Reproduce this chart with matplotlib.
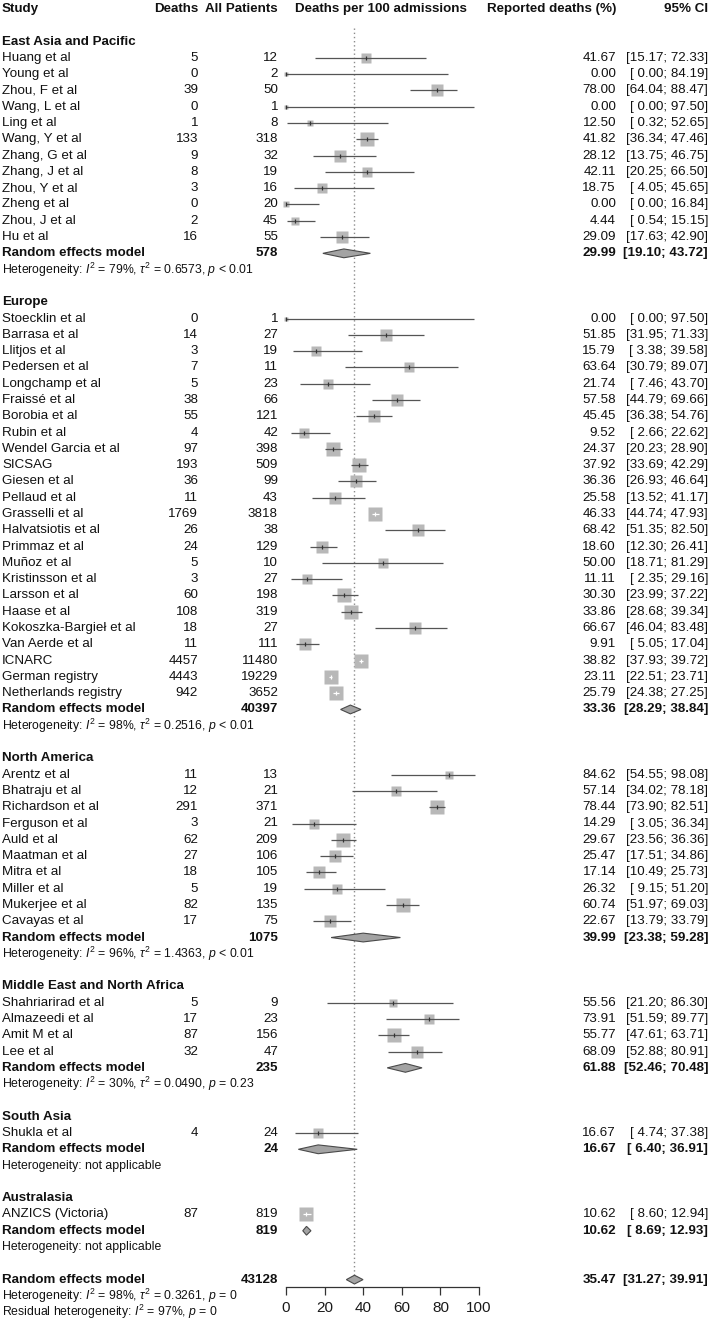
import numpy as np
import matplotlib
matplotlib.use("Agg")
import matplotlib.pyplot as plt
from matplotlib import transforms
from matplotlib.patches import Polygon

plt.rcParams['font.family'] = ['Liberation Sans', 'DejaVu Sans']
plt.rcParams['mathtext.fontset'] = 'custom'
plt.rcParams['mathtext.rm'] = 'Liberation Sans'
plt.rcParams['mathtext.it'] = 'Liberation Sans:italic'
plt.rcParams['mathtext.bf'] = 'Liberation Sans:bold'

# ---------------- data ----------------
regions = ["East Asia and Pacific", "Europe", "North America",
           "Middle East and North Africa", "South Asia", "Australasia"]

study = ["Huang et al", "Young et al", "Zhou, F et al", "Wang, L et al", "Ling et al",
         "Wang, Y et al", "Zhang, G et al", "Zhang, J et al", "Zhou, Y et al", "Zheng et al",
         "Zhou, J et al", "Hu et al",
         "Stoecklin et al", "Barrasa et al", "Llitjos et al", "Pedersen et al", "Longchamp et al",
         "Fraissé et al", "Borobia et al", "Rubin et al", "Wendel Garcia et al", "SICSAG",
         "Giesen et al", "Pellaud et al", "Grasselli et al", "Halvatsiotis et al", "Primmaz et al",
         "Muñoz et al", "Kristinsson et al", "Larsson et al", "Haase et al",
         "Kokoszka-Bargieł et al", "Van Aerde et al", "ICNARC", "German registry",
         "Netherlands registry",
         "Arentz et al", "Bhatraju et al", "Richardson et al", "Ferguson et al", "Auld et al",
         "Maatman et al", "Mitra et al", "Miller et al", "Mukerjee et al", "Cavayas et al",
         "Shahriarirad et al", "Almazeedi et al", "Amit M et al", "Lee et al",
         "Shukla et al",
         "ANZICS (Victoria)"]
study_region = [0] * 12 + [1] * 24 + [2] * 10 + [3] * 4 + [4] + [5]
deaths = [5, 0, 39, 0, 1, 133, 9, 8, 3, 0, 2, 16,
          0, 14, 3, 7, 5, 38, 55, 4, 97, 193, 36, 11, 1769, 26, 24, 5, 3, 60, 108, 18, 11,
          4457, 4443, 942,
          11, 12, 291, 3, 62, 27, 18, 5, 82, 17,
          5, 17, 87, 32,
          4,
          87]
patients = [12, 2, 50, 1, 8, 318, 32, 19, 16, 20, 45, 55,
            1, 27, 19, 11, 23, 66, 121, 42, 398, 509, 99, 43, 3818, 38, 129, 10, 27, 198, 319,
            27, 111, 11480, 19229, 3652,
            13, 21, 371, 21, 209, 106, 105, 19, 135, 75,
            9, 23, 156, 47,
            24,
            819]
est = [41.67, 0.00, 78.00, 0.00, 12.50, 41.82, 28.12, 42.11, 18.75, 0.00, 4.44, 29.09,
       0.00, 51.85, 15.79, 63.64, 21.74, 57.58, 45.45, 9.52, 24.37, 37.92, 36.36, 25.58,
       46.33, 68.42, 18.60, 50.00, 11.11, 30.30, 33.86, 66.67, 9.91, 38.82, 23.11, 25.79,
       84.62, 57.14, 78.44, 14.29, 29.67, 25.47, 17.14, 26.32, 60.74, 22.67,
       55.56, 73.91, 55.77, 68.09,
       16.67,
       10.62]
lower = [15.17, 0.00, 64.04, 0.00, 0.32, 36.34, 13.75, 20.25, 4.05, 0.00, 0.54, 17.63,
         0.00, 31.95, 3.38, 30.79, 7.46, 44.79, 36.38, 2.66, 20.23, 33.69, 26.93, 13.52,
         44.74, 51.35, 12.30, 18.71, 2.35, 23.99, 28.68, 46.04, 5.05, 37.93, 22.51, 24.38,
         54.55, 34.02, 73.90, 3.05, 23.56, 17.51, 10.49, 9.15, 51.97, 13.79,
         21.20, 51.59, 47.61, 52.88,
         4.74,
         8.60]
upper = [72.33, 84.19, 88.47, 97.50, 52.65, 47.46, 46.75, 66.50, 45.65, 16.84, 15.15, 42.90,
         97.50, 71.33, 39.58, 89.07, 43.70, 69.66, 54.76, 22.62, 28.90, 42.29, 46.64, 41.17,
         47.93, 82.50, 26.41, 81.29, 29.16, 37.22, 39.34, 83.48, 17.04, 39.72, 23.71, 27.25,
         98.08, 78.18, 82.51, 36.34, 36.36, 34.86, 25.73, 51.20, 69.03, 33.79,
         86.30, 89.77, 63.71, 80.91,
         37.38,
         12.94]

region_n = [578, 40397, 1075, 235, 24, 819]
region_est = [29.99, 33.36, 39.99, 61.88, 16.67, 10.62]
region_lo = [19.10, 28.29, 23.38, 52.46, 6.40, 8.69]
region_hi = [43.72, 38.84, 59.28, 70.48, 36.91, 12.93]
region_i2 = ["79%", "98%", "96%", "30%", None, None]
region_tau2 = ["0.6573", "0.2516", "1.4363", "0.0490", None, None]
region_p = ["< 0.01", "< 0.01", "< 0.01", "= 0.23", None, None]

overall_n = 43128
overall_est, overall_lo, overall_hi = 35.47, 31.27, 39.91
overall_i2, overall_tau2, overall_p = "98%", 0.3261, "= 0"
resid_i2, resid_p = "97%", "= 0"

ticks = [0, 20, 40, 60, 80, 100]

# ---------------- layout ----------------
W, H = 709, 1320
fig = plt.figure(figsize=(W / 100, H / 100), dpi=100)
row0_px, row_h = 9.0, 16.29
x0_px, x100_px = 286.0, 479.0
ax = fig.add_axes([x0_px / W, 0, (x100_px - x0_px) / W, 1])
ax.set_xlim(0, 100)
ax.set_ylim((H - row0_px) / row_h, -row0_px / row_h)
for s in ['left', 'right', 'top']:
    ax.spines[s].set_visible(False)
ax.set_yticks([])
axis_row = (1287 - row0_px) / row_h
ax.spines['bottom'].set_position(('data', axis_row))
ax.spines['bottom'].set_color('#333333')
ax.spines['bottom'].set_linewidth(0.9)
ax.set_xticks(ticks)
ax.set_xticklabels([str(t) for t in ticks])
ax.tick_params(axis='x', direction='out', length=6, width=0.9, color='#333333',
               labelsize=11, labelcolor='#1a1a1a', pad=4)
ax.patch.set_visible(False)

tr = transforms.blended_transform_factory(fig.transFigure, ax.transData)
px_per_unit = (x100_px - x0_px) / 100

FS = 9.6
FSH = 8.8
TXT = '#111111'
X_STUDY, X_DEATHS, X_ALL, X_HEAD_MID, X_REP, X_CI = 2, 198, 278, 381, 616, 708


def put(xpx, row, s, ha='left', bold=False, size=FS):
    ax.text(xpx / W, row, s, transform=tr, ha=ha, va='center', fontsize=size,
            fontweight='bold' if bold else 'normal', color=TXT)


def ci_str(lo, hi):
    return f"[{lo:5.2f}; {hi:5.2f}]"


# header
put(X_STUDY, 0, "Study", bold=True)
put(X_DEATHS, 0, "Deaths", ha='right', bold=True)
put(X_ALL, 0, "All Patients", ha='right', bold=True)
put(X_HEAD_MID, 0, "Deaths per 100 admissions", ha='center', bold=True)
put(X_REP, 0, "Reported deaths (%)", ha='right', bold=True)
put(X_CI, 0, "95% CI", ha='right', bold=True)

# random-effects weights (logit scale) for square sizes
d = np.array(deaths, float)
n = np.array(patients, float)
a = np.where(d == 0, d + 0.5, d)
b = np.where(d == 0, n - d + 0.5, n - d)
var = 1 / a + 1 / b
w = 1 / (var + overall_tau2)
sq_px = 13.6 * np.sqrt(w / w.max())

SQ_COL = '#b8b8b8'
LINE_COL = '#555555'
DIA_FACE = '#a3a3a3'
DIA_EDGE = '#4a4a4a'
dia_h = 0.27


def diamond(row, e, lo, hi):
    poly = Polygon([(lo, row), (e, row - dia_h), (hi, row), (e, row + dia_h)],
                   closed=True, facecolor=DIA_FACE, edgecolor=DIA_EDGE, lw=0.8,
                   clip_on=False, zorder=3)
    ax.add_patch(poly)


row = 2
for g, gname in enumerate(regions):
    put(X_STUDY, row, gname, bold=True)
    row += 1
    for i in [k for k in range(len(study)) if study_region[k] == g]:
        put(X_STUDY, row, study[i])
        put(X_DEATHS, row, str(deaths[i]), ha='right')
        put(X_ALL, row, str(patients[i]), ha='right')
        put(X_REP, row, f"{est[i]:.2f}", ha='right')
        put(X_CI, row, ci_str(lower[i], upper[i]), ha='right')
        ms = max(sq_px[i], 4.0) * 0.72
        ax.plot([est[i]], [row], marker='s', ms=ms, color=SQ_COL, mec='none',
                clip_on=False, zorder=2)
        inside = (upper[i] - lower[i]) * px_per_unit < sq_px[i]
        lc = 'white' if inside else LINE_COL
        ax.plot([lower[i], upper[i]], [row, row], color=lc, lw=0.9, clip_on=False,
                zorder=3, solid_capstyle='butt')
        ax.plot([est[i]], [row], marker='|', ms=3.2, mew=0.9,
                color='white' if inside else '#333333', clip_on=False, zorder=4)
        row += 1
    put(X_STUDY, row, "Random effects model", bold=True)
    put(X_ALL, row, str(region_n[g]), ha='right', bold=True)
    put(X_REP, row, f"{region_est[g]:.2f}", ha='right', bold=True)
    put(X_CI, row, ci_str(region_lo[g], region_hi[g]), ha='right', bold=True)
    diamond(row, region_est[g], region_lo[g], region_hi[g])
    row += 1
    if region_i2[g] is None:
        het = "Heterogeneity: not applicable"
    else:
        het = (f"Heterogeneity: $I^2$ = {region_i2[g]}, $\\tau^2$ = {region_tau2[g]}, "
               f"$p$ {region_p[g]}")
    put(X_STUDY, row, het, size=FSH)
    row += 2

# overall
put(X_STUDY, row, "Random effects model", bold=True)
put(X_ALL, row, str(overall_n), ha='right', bold=True)
put(X_REP, row, f"{overall_est:.2f}", ha='right', bold=True)
put(X_CI, row, ci_str(overall_lo, overall_hi), ha='right', bold=True)
diamond(row, overall_est, overall_lo, overall_hi)
overall_row = row
row += 1
put(X_STUDY, row, f"Heterogeneity: $I^2$ = {overall_i2}, $\\tau^2$ = {overall_tau2:.4f}, $p$ {overall_p}",
    size=FSH)
row += 1
put(X_STUDY, row, f"Residual heterogeneity: $I^2$ = {resid_i2}, $p$ {resid_p}", size=FSH)

# reference line
ax.plot([overall_est, overall_est], [(28 - row0_px) / row_h, overall_row - dia_h],
        color='#8c8c8c', lw=1.0, ls=(0, (1, 2)), zorder=1, clip_on=False)

fig.savefig("out.png", dpi=100)
